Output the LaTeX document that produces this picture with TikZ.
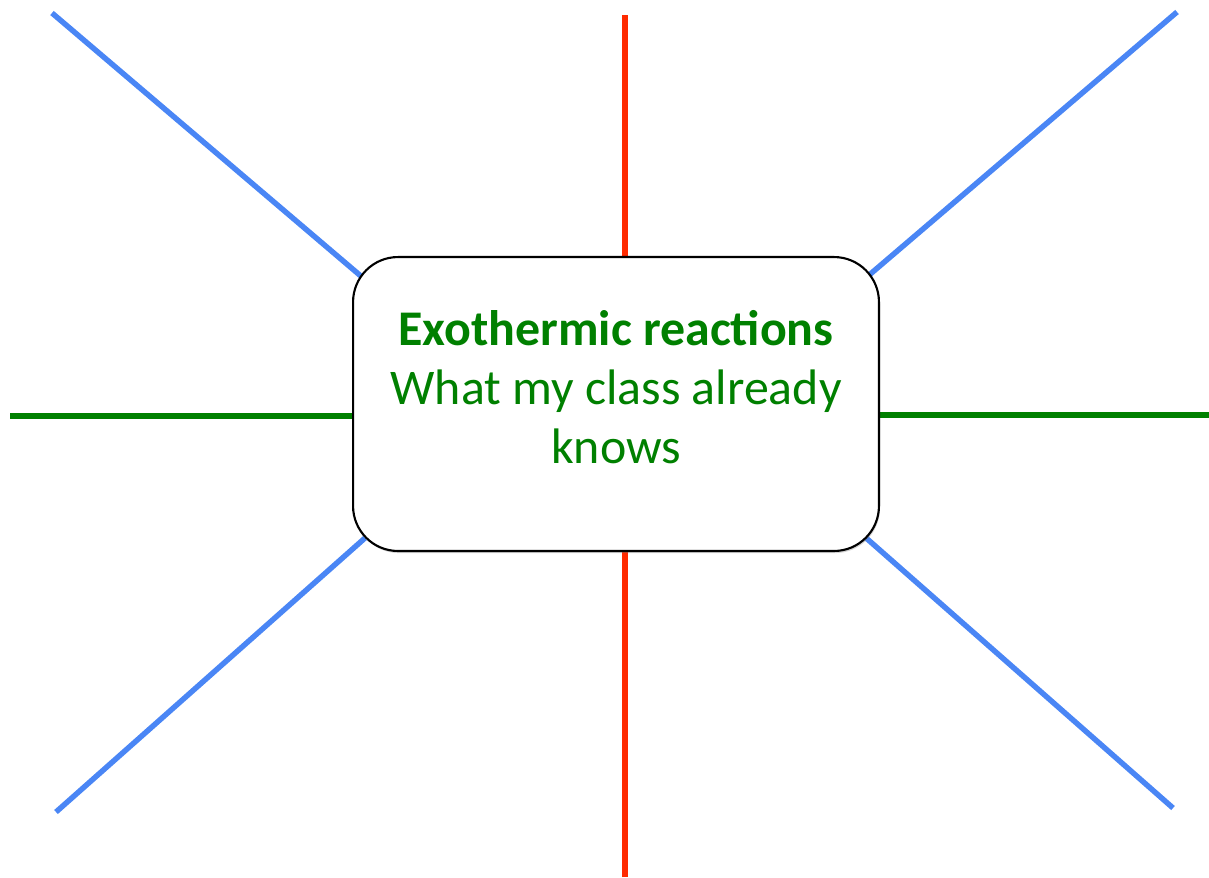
\documentclass[tikz,border=0pt]{standalone}
\usepackage{fontspec}
\setmainfont{Carlito}
\usepackage{xcolor}
\usepackage{tikz}
\usetikzlibrary{positioning,calc,backgrounds,shadows}
\definecolor{spokeblue}{RGB}{74,134,245}
\definecolor{spokered}{RGB}{255,42,0}
\definecolor{spokegreen}{RGB}{0,128,0}

\begin{document}
\begin{tikzpicture}[x=0.02cm,y=-0.02cm,
  hub/.style={draw,line width=1.2pt,rounded corners=0.9cm,fill=white,minimum width=10.52cm,minimum height=5.88cm,
    drop shadow={opacity=0.35,shadow xshift=0.6pt,shadow yshift=-1.2pt}},
  lbl/.style={text=spokegreen,align=center,font=\fontsize{28.4}{33.5}\selectfont},
  spk/.style={line width=3.1pt,line cap=butt}]
\useasboundingbox (0,0) rectangle (1209,877);
% free ends of the spokes
\coordinate (tl) at (52,13);   \coordinate (tlin) at (362,277);
\coordinate (t)  at (625,15);  \coordinate (tin)  at (625,262);
\coordinate (tr) at (1177,12); \coordinate (trin) at (868,276);
\coordinate (l)  at (10,416);  \coordinate (lin)  at (358,416);
\coordinate (r)  at (1209,415);\coordinate (rin)  at (874,415);
\coordinate (bl) at (56,812);  \coordinate (blin) at (365,538);
\coordinate (b)  at (625,877); \coordinate (bin)  at (625,546);
\coordinate (br) at (1173,808);\coordinate (brin) at (865,537);
\node[hub] (hub) at (616,404) {};
\node[lbl] (txt) at (616,387) {\textbf{Exothermic reactions}\\What my class already\\knows};
\begin{scope}[on background layer]
\draw[spk,spokeblue] (tl)--(tlin); \draw[spk,spokeblue] (tr)--(trin);
\draw[spk,spokeblue] (bl)--(blin); \draw[spk,spokeblue] (br)--(brin);
\draw[spk,spokered] (t)--(tin); \draw[spk,spokered] (b)--(bin);
\draw[spk,spokegreen] (l)--(lin); \draw[spk,spokegreen] (r)--(rin);
\end{scope}
\end{tikzpicture}
\end{document}
